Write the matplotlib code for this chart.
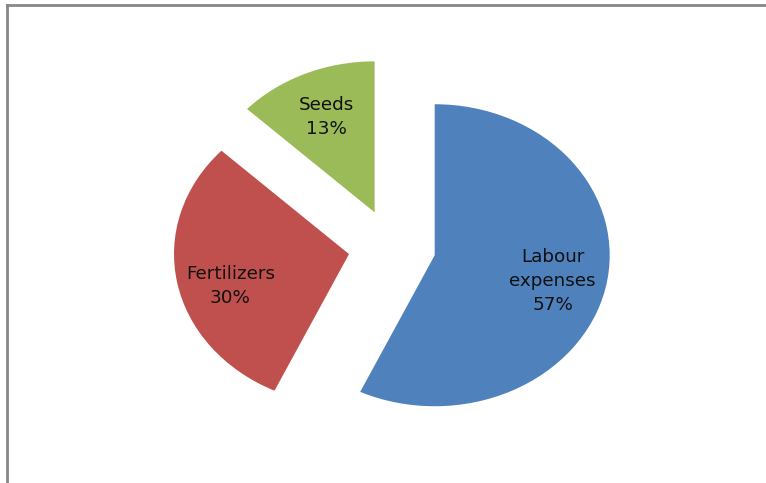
import matplotlib
matplotlib.use("Agg")
import matplotlib.pyplot as plt
from matplotlib.lines import Line2D

# data
categories = ["Labour\nexpenses", "Fertilizers", "Seeds"]
shares = [57, 30, 13]
colors = ["#4F81BD", "#C0504D", "#9BBB59"]

W, H = 766, 483
fig = plt.figure(figsize=(W / 100, H / 100), dpi=100)
ax = fig.add_axes([0, 0, 1, 1])

labels = [f"{c}\n{s}%" for c, s in zip(categories, shares)]
wedges, texts = ax.pie(shares, colors=colors, startangle=90, counterclock=False,
                       explode=[0.25] * len(shares), labels=labels,
                       labeldistance=0.69, wedgeprops=dict(linewidth=0))
for t in texts:
    t.set_ha("center")
    t.set_va("center")
    t.set_fontsize(13.2)
    t.set_linespacing(1.45)
    t.set_color("#111111")

# Excel drops the left label a little lower than the mid-angle point
x, y = texts[1].get_position()
texts[1].set_position((x, y - 0.08))
x, y = texts[0].get_position()
texts[0].set_position((x, y - 0.02))

# stretch the pie into an ellipse like the original (rx 175 px, ry 151 px)
ax.set_aspect("auto")
cx, cy = 392, 247
rx, ry = 175, 151
ax.set_xlim(-cx / rx, (W - cx) / rx)
ax.set_ylim(-(H - cy) / ry, cy / ry)
ax.axis("off")

# chart frame (only top and left edges visible)
fig.add_artist(Line2D([7 / W, 1], [1 - 5 / H, 1 - 5 / H], transform=fig.transFigure,
                      color="#878787", linewidth=2))
fig.add_artist(Line2D([7 / W, 7 / W], [0, 1 - 5 / H], transform=fig.transFigure,
                      color="#878787", linewidth=2))

fig.savefig("out.png", dpi=100)
